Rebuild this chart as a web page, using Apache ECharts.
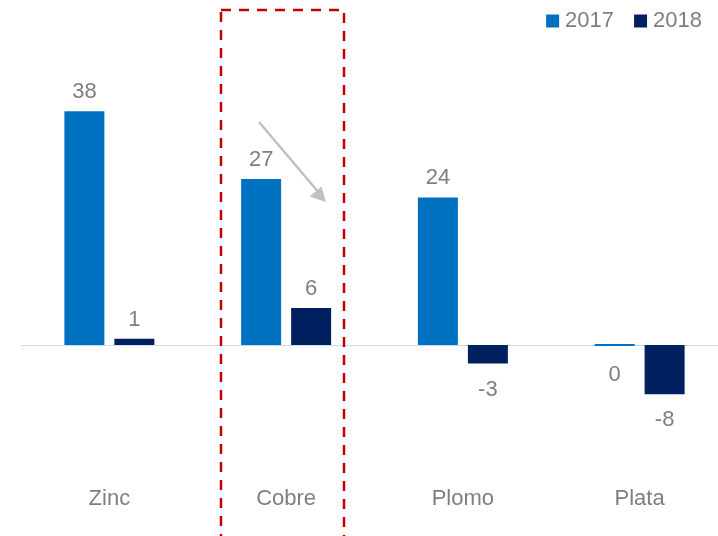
<!DOCTYPE html>
<html>
<head>
<meta charset="utf-8">
<script src="https://cdn.jsdelivr.net/npm/echarts@6/dist/echarts.min.js"></script>
<style>
  html, body { margin: 0; padding: 0; background: #fff; }
  #chart { width: 718px; height: 536px; }
</style>
</head>
<body>
<div id="chart"></div>
<script>
// Metal production change by year
const categories = ['Zinc', 'Cobre', 'Plomo', 'Plata'];
const seriesNames = ['2017', '2018'];
const values2017 = [38, 27, 24, 0];
const values2018 = [1, 6, -3, -8];

const colors = { '2017': '#0070c0', '2018': '#002060' };
const textGray = '#7f7f7f';
const font = 'Liberation Sans, Arial, sans-serif';

// Positive values labelled above the bar, zero/negative below it
function buildData(values, color) {
  return values.map(v => {
    const item = {
      value: v,
      label: v > 0
        ? { position: 'top', distance: 8 }
        : { position: 'bottom', distance: v === 0 ? 18 : 15 }
    };
    if (v === 0) {
      item.itemStyle = { borderColor: color, borderWidth: 2 };
    }
    return item;
  });
}

const chart = echarts.init(document.getElementById('chart'), null, { renderer: 'canvas' });

const labelStyle = {
  show: true,
  color: textGray,
  fontSize: 22,
  fontFamily: font,
  formatter: p => String(p.value)
};

chart.setOption({
  animation: false,
  legend: {
    data: seriesNames,
    right: 11,
    top: 5,
    itemWidth: 13,
    itemHeight: 13,
    itemGap: 20,
    icon: 'rect',
    textStyle: { color: textGray, fontSize: 22, fontFamily: font, padding: [0, 0, 0, 1] }
  },
  // the plot area runs slightly past the right edge of the canvas
  grid: { left: 21, right: -10, top: 99, height: 369, outerBoundsMode: 'none' },
  xAxis: {
    type: 'category',
    data: categories,
    axisLine: { show: false, onZero: false },
    axisTick: { show: false },
    splitLine: { show: false },
    axisLabel: { color: textGray, fontSize: 22, fontFamily: font, margin: 20 }
  },
  yAxis: {
    type: 'value',
    min: -20,
    max: 40,
    show: false,
    splitLine: { show: false }
  },
  series: [
    {
      name: '2017',
      type: 'bar',
      barWidth: 40,
      barGap: '25%',
      itemStyle: { color: colors['2017'] },
      label: labelStyle,
      data: buildData(values2017, colors['2017']),
      markLine: {
        silent: true,
        symbol: 'none',
        label: { show: false },
        lineStyle: { color: '#c9dcf2', width: 1.2, type: 'solid' },
        data: [{ yAxis: 0 }],
        z: 1
      },
      z: 3
    },
    {
      name: '2018',
      type: 'bar',
      barWidth: 40,
      barGap: '25%',
      itemStyle: { color: colors['2018'] },
      label: labelStyle,
      data: buildData(values2018, colors['2018']),
      z: 3
    }
  ],
  graphic: [
    {
      // dashed highlight around the copper group
      type: 'rect',
      shape: { x: 221, y: 10, width: 123, height: 540 },
      style: { fill: 'none', stroke: '#c00000', lineWidth: 2.5, lineDash: [10, 8] },
      z: 10
    },
    {
      type: 'line',
      shape: { x1: 259, y1: 122, x2: 320, y2: 194 },
      style: { stroke: '#c0c0c0', lineWidth: 2.5 },
      z: 10
    },
    {
      type: 'polygon',
      shape: { points: [[326, 202], [309.5, 196.5], [321.5, 186.5]] },
      style: { fill: '#c0c0c0' },
      z: 10
    }
  ]
});
</script>
</body>
</html>
